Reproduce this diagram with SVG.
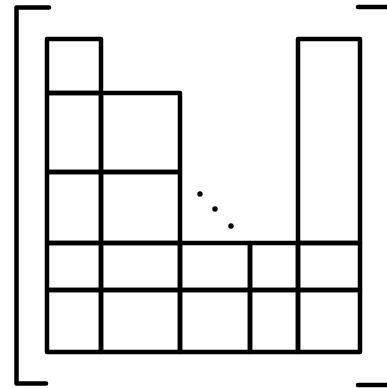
<svg xmlns="http://www.w3.org/2000/svg" width="387" height="388" viewBox="0 0 387 388">
<style>
.c{fill:none;stroke:#000;stroke-width:4.5;stroke-linejoin:round}
.b{fill:none;stroke:#000;stroke-width:4.5;stroke-linecap:round;stroke-linejoin:round}
.d{fill:#000}
</style>
<rect width="387" height="388" fill="#fff"/>
<g id="brackets">
<path class="b" d="M49,7.5 H16.5 V383.5 H46"/>
<path class="b" d="M358,7 H390"/>
<path class="b" d="M358,385 H390"/>
</g>
<g id="col1">
<rect class="c" x="47" y="39" width="54" height="54"/>
<rect class="c" x="47" y="93" width="54" height="79"/>
<rect class="c" x="47" y="172" width="54" height="71"/>
<rect class="c" x="47" y="243" width="54" height="47"/>
<rect class="c" x="47" y="290" width="54" height="62"/>
</g>
<g id="col2">
<rect class="c" x="101" y="93" width="79" height="79"/>
<rect class="c" x="101" y="172" width="79" height="71"/>
<rect class="c" x="101" y="243" width="79" height="47"/>
<rect class="c" x="101" y="290" width="79" height="62"/>
</g>
<g id="col3">
<rect class="c" x="180" y="243" width="70" height="47"/>
<rect class="c" x="180" y="290" width="70" height="62"/>
</g>
<g id="col4">
<rect class="c" x="250" y="243" width="48" height="47"/>
<rect class="c" x="250" y="290" width="48" height="62"/>
</g>
<g id="col5">
<rect class="c" x="298" y="39" width="62" height="204"/>
<rect class="c" x="298" y="243" width="62" height="47"/>
<rect class="c" x="298" y="290" width="62" height="62"/>
</g>
<g id="dots">
<circle class="d" cx="200" cy="194" r="2.7"/>
<circle class="d" cx="215" cy="209" r="2.7"/>
<circle class="d" cx="231" cy="226" r="2.7"/>
</g>
</svg>
